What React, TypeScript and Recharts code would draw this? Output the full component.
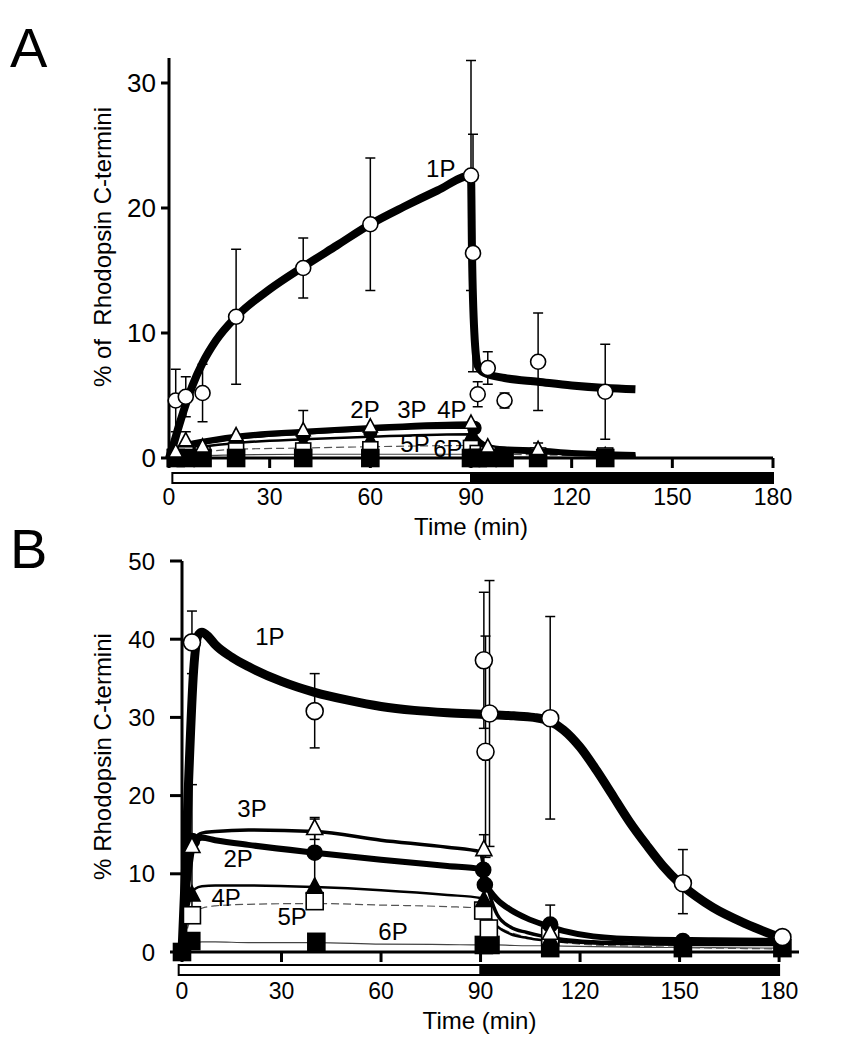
import React from "react";
import {
  ComposedChart, Line, Scatter, XAxis, YAxis, ErrorBar,
  ReferenceArea, ReferenceDot,
} from "recharts";

const FONT = "'Liberation Sans', Arial, Helvetica, sans-serif";

// ---------- Panel A : fitted curves ----------
const fitA_t1 = [0, 1, 3, 5, 7, 10, 14, 20, 30, 40, 50, 60, 70, 80, 90, 90.3, 91, 92, 94, 100, 110, 120, 130, 139];
const fitA_1P = [0, 0.8, 2.6, 4.3, 5.8, 7.6, 9.4, 11.3, 13.5, 15.3, 17.0, 18.7, 20.1, 21.4, 22.6, 16.4, 10.0, 7.4, 6.8, 6.4, 6.1, 5.8, 5.6, 5.5];

const fitA_t = [0, 2, 5, 10, 20, 40, 60, 90, 91, 93, 95, 100, 110, 120, 139];
const fitA_2P = [0, 0.6, 1.0, 1.3, 1.7, 2.1, 2.4, 2.7, 1.8, 1.2, 0.9, 0.7, 0.6, 0.4, 0.25];
const fitA_3P = [0, 0.6, 1.0, 1.2, 1.6, 2.0, 2.3, 2.5, 1.5, 1.0, 0.8, 0.6, 0.5, 0.35, 0.2];
const fitA_4P = [0, 0.4, 0.7, 0.9, 1.2, 1.5, 1.7, 1.9, 1.2, 0.8, 0.6, 0.5, 0.4, 0.3, 0.15];
const fitA_5P = [0, 0.2, 0.4, 0.5, 0.7, 0.8, 0.9, 1.0, 0.7, 0.5, 0.4, 0.3, 0.25, 0.2, 0.1];
const fitA_6P = [0, 0.1, 0.2, 0.2, 0.25, 0.3, 0.3, 0.3, 0.2, 0.15, 0.12, 0.1, 0.08, 0.06, 0.05];

// ---------- Panel A : measured points ----------
const ptA_t1 = [2, 5, 10, 20, 40, 60, 90, 90.6, 92, 95, 100, 110, 130];
const ptA_1P = [4.6, 4.9, 5.2, 11.3, 15.2, 18.7, 22.6, 16.4, 5.1, 7.2, 4.6, 7.7, 5.3];
const errA_1P = [2.5, 1.6, 2.3, 5.4, 2.4, 5.3, 9.2, 9.5, 1.0, 1.3, 0.6, 3.9, 3.8];

const ptA_t3 = [2, 5, 10, 20, 40, 60, 90, 95, 110];
const ptA_3P = [0.5, 1.4, 0.9, 1.8, 2.2, 2.5, 2.8, 0.9, 0.7];
const errA_3P = [0, 0.7, 0, 0, 1.6, 0, 0, 0, 0.5];

const ptA_t2 = [2, 5, 10, 20, 40, 60, 91];
const ptA_2P = [0.3, 0.8, 0.6, 1.4, 1.8, 2.1, 2.4];

const ptA_t4 = [2, 5, 10, 20, 40, 60, 90, 95, 110, 130];
const ptA_4P = [0.2, 0.5, 0.4, 0.9, 1.2, 1.4, 1.7, 0.5, 0.3, 0.2];

const ptA_t5 = [2, 5, 10, 20, 40, 60, 90, 92, 95, 110, 130];
const ptA_5P = [0.1, 0.3, 0.3, 0.6, 0.6, 0.7, 0.8, 0.4, 0.3, 0.2, 0.2];

const ptA_t6 = [2, 5, 10, 20, 40, 60, 90, 92, 95, 100, 110, 130];
const ptA_6P = [0, 0, 0, 0, 0, 0, 0, 0, 0, 0, 0, 0];

// ---------- Panel B : fitted curves ----------
const fitB_t1 = [0, 1, 2, 3.5, 5, 6, 8, 10, 15, 20, 30, 40, 50, 60, 70, 80, 90, 100, 106, 111, 115, 120, 125, 130, 135, 140, 145, 150, 155, 160, 170, 180];
const fitB_1P = [0, 10, 22, 36, 40.6, 40.9, 40.3, 39.3, 37.7, 36.5, 34.6, 33.2, 32.2, 31.4, 30.9, 30.6, 30.4, 30.2, 30.0, 29.5, 28.4, 26.2, 23.2, 19.9, 16.6, 13.7, 11.0, 8.8, 7.1, 5.7, 3.6, 1.9];

const fitB_t = [0, 2, 4, 6, 10, 20, 40, 60, 80, 90, 91, 93, 95, 99, 104, 109, 115, 124, 140, 160, 180];
const fitB_2P = [0, 10, 14.3, 14.6, 14.3, 13.7, 12.7, 11.8, 11.0, 10.6, 9.2, 7.7, 6.7, 5.4, 4.3, 3.5, 2.7, 2.0, 1.6, 1.5, 1.4];
const fitB_3P = [0, 10, 14.6, 15.2, 15.4, 15.6, 15.4, 14.3, 13.4, 12.8, 10.5, 7.0, 4.8, 3.2, 2.5, 2.0, 1.6, 1.3, 1.1, 1.0, 1.0];
const fitB_4P = [0, 6, 8.1, 8.4, 8.5, 8.5, 8.3, 7.9, 7.3, 6.9, 5.8, 4.3, 3.3, 2.3, 1.8, 1.5, 1.3, 1.1, 1.0, 0.9, 0.9];
const fitB_5P = [0, 3.5, 5.2, 5.6, 5.9, 6.1, 6.2, 6.0, 5.8, 5.6, 4.8, 3.9, 3.3, 2.5, 1.9, 1.5, 1.2, 0.9, 0.7, 0.5, 0.4];
const fitB_6P = [0, 0.8, 1.2, 1.3, 1.3, 1.2, 1.2, 1.0, 0.95, 0.9, 0.9, 0.9, 0.9, 0.85, 0.8, 0.8, 0.75, 0.7, 0.6, 0.55, 0.5];

// ---------- Panel B : measured points ----------
const ptB_t1 = [3, 40, 91, 91.5, 92.7, 111, 151, 181];
const ptB_1P = [39.6, 30.8, 37.3, 25.6, 30.5, 29.9, 8.8, 1.9];
const errB_1P_lo = [4.0, 4.7, 8.7, 13.5, 17.0, 12.9, 3.9, 0];
const errB_1P_hi = [4.0, 4.8, 8.7, 14.8, 17.0, 13.0, 4.3, 0];

const ptB_t3 = [3, 40, 91, 111];
const ptB_3P = [13.5, 15.8, 13.1, 2.4];
const errB_3P = [7.9, 1.4, 1.9, 0];

const ptB_t2 = [3, 40, 90.8, 91.3, 111, 151, 181];
const ptB_2P = [14.2, 12.7, 10.5, 8.6, 3.5, 1.4, 1.3];
const errB_2P = [0, 4.3, 0, 0, 2.5, 0, 0];

const ptB_t4 = [3, 40, 91, 111];
const ptB_4P = [7.3, 8.3, 6.6, 1.6];

const ptB_t5 = [3, 40, 90.8, 92.5, 111];
const ptB_5P = [4.7, 6.5, 5.3, 3.0, 2.0];

const ptB_t6 = [0, 2.8, 40.5, 91, 93, 111, 151, 181];
const ptB_6P = [0, 1.4, 1.3, 0.9, 0.9, 0.5, 0.5, 0.5];

// ---------- axes / labels ----------
const xTicks = [0, 30, 60, 90, 120, 150, 180];
const yTicksA = [0, 10, 20, 30];
const yTicksB = [0, 10, 20, 30, 40, 50];

const labelsA = [
  { text: "1P", t: 81, v: 23.2 },
  { text: "2P", t: 58.4, v: 3.85 },
  { text: "3P", t: 72.4, v: 3.85 },
  { text: "4P", t: 84.3, v: 3.85 },
  { text: "5P", t: 73.3, v: 1.2 },
  { text: "6P", t: 83.1, v: 0.8 },
];
const labelsB = [
  { text: "1P", t: 26.5, v: 40.3 },
  { text: "3P", t: 21.1, v: 18.3 },
  { text: "2P", t: 16.9, v: 11.9 },
  { text: "4P", t: 13.3, v: 7.0 },
  { text: "5P", t: 33.2, v: 4.5 },
  { text: "6P", t: 63.6, v: 2.6 },
];

const curve = (ts: number[], ys: number[]) => ts.map((t, i) => ({ t, y: ys[i] }));
const points = (ts: number[], ys: number[], lo?: number[], hi?: number[]) =>
  ts.map((t, i) => {
    const l = lo ? lo[i] : 0;
    const h = hi ? hi[i] : l;
    return { t, y: ys[i], e: l || h ? [l, h] : undefined };
  });

type Kind = "oc" | "fc" | "ot" | "ft" | "os" | "fs";

const marker = (kind: Kind, s: number) => (props: any) => {
  const { cx, cy } = props;
  if (cx == null || cy == null) return <g />;
  const fill = kind[0] === "f" ? "#000" : "#fff";
  if (kind[1] === "c")
    return <circle cx={cx} cy={cy} r={s / 2} fill={fill} stroke="#000" strokeWidth={1.6} />;
  if (kind[1] === "s")
    return <rect x={cx - s / 2} y={cy - s / 2} width={s} height={s} fill={fill} stroke="#000" strokeWidth={1.6} />;
  const h = s * 0.95;
  return (
    <polygon
      points={`${cx},${cy - h * 0.6} ${cx + s / 2},${cy + h * 0.4} ${cx - s / 2},${cy + h * 0.4}`}
      fill={fill} stroke="#000" strokeWidth={1.6}
    />
  );
};

interface CurveDef { data: { t: number; y: number }[]; width: number; color?: string; dash?: string }
interface PointDef { data: any[]; kind: Kind; size: number; err?: boolean }

interface PanelProps {
  height: number;
  plotTop: number;
  plotHeight: number;
  left: number;
  right: number;
  yWidth: number;
  xMax: number;
  yMax: number;
  yTicks: number[];
  yTickSize: number;
  yTickMargin: number;
  yTickFont: number;
  curves: CurveDef[];
  pts: PointDef[];
  labels: { text: string; t: number; v: number }[];
  bar: { x0: number; y1: number; y2: number };
  yTitle: string;
  yTitleShift: number;
  xTitleDx: number;
}

function Panel(p: PanelProps) {
  const xAxisHeight = p.height - p.plotTop - p.plotHeight;
  const yTitle = (lp: any) => {
    const vb = lp.viewBox || {};
    const cy = vb.y + vb.height / 2 + p.yTitleShift;
    return (
      <text
        transform={`translate(111, ${cy}) rotate(-90)`}
        x={0} y={0} textAnchor="middle" fontSize={24} fontFamily={FONT} fill="#000"
        style={{ whiteSpace: "pre" }}
      >
        {p.yTitle}
      </text>
    );
  };
  const xTitle = (lp: any) => {
    const vb = lp.viewBox || {};
    return (
      <text x={vb.x + vb.width / 2 + p.xTitleDx} y={vb.y + 77} textAnchor="middle"
        fontSize={24} fontFamily={FONT} fill="#000">
        Time (min)
      </text>
    );
  };

  return (
    <ComposedChart
      width={852}
      height={p.height}
      margin={{ top: p.plotTop, right: p.right, bottom: 0, left: p.left }}
    >
      <XAxis
        dataKey="t" type="number" domain={[0, p.xMax]} ticks={xTicks} interval={0}
        height={xAxisHeight}
        axisLine={{ stroke: "#000", strokeWidth: 3 }}
        tickLine={{ stroke: "#000", strokeWidth: 3 }}
        tickSize={10} tickMargin={21}
        tick={{ fontSize: 23, fill: "#000", fontFamily: FONT }}
        label={xTitle}
      />
      <YAxis
        dataKey="y" type="number" domain={[0, p.yMax]} ticks={p.yTicks} interval={0}
        width={p.yWidth}
        axisLine={{ stroke: "#000", strokeWidth: 3 }}
        tickLine={{ stroke: "#000", strokeWidth: 3 }}
        tickSize={p.yTickSize} tickMargin={p.yTickMargin}
        tick={{ fontSize: p.yTickFont, fill: "#000", fontFamily: FONT }}
        label={yTitle}
      />
      <ReferenceArea x1={p.bar.x0} x2={90} y1={p.bar.y1} y2={p.bar.y2} ifOverflow="visible"
        fill="#fff" fillOpacity={1} stroke="#000" strokeWidth={2} />
      <ReferenceArea x1={90} x2={180} y1={p.bar.y1} y2={p.bar.y2} ifOverflow="visible"
        fill="#000" fillOpacity={1} stroke="#000" strokeWidth={2} />
      {p.curves.map((c, i) => (
        <Line
          key={`c${i}`} data={c.data} dataKey="y" type="monotone" dot={false}
          stroke={c.color || "#000"} strokeWidth={c.width} strokeDasharray={c.dash}
          isAnimationActive={false}
        />
      ))}
      {p.pts.map((s, i) => (
        <Scatter key={`s${i}`} data={s.data} dataKey="y" shape={marker(s.kind, s.size)} isAnimationActive={false}>
          {s.err && <ErrorBar dataKey="e" direction="y" width={5} stroke="#000" strokeWidth={1.5} />}
        </Scatter>
      ))}
      {p.labels.map((l) => (
        <ReferenceDot
          key={l.text} x={l.t} y={l.v} r={1} fill="none" stroke="none"
          label={{ value: l.text, position: "center", fontSize: 24, fill: "#000", fontFamily: FONT }}
        />
      ))}
    </ComposedChart>
  );
}

export default function App() {
  const curvesA: CurveDef[] = [
    { data: curve(fitA_t, fitA_6P), width: 1.2, color: "#444" },
    { data: curve(fitA_t, fitA_5P), width: 1.2, color: "#555", dash: "8 4" },
    { data: curve(fitA_t, fitA_4P), width: 2.5 },
    { data: curve(fitA_t, fitA_3P), width: 4 },
    { data: curve(fitA_t, fitA_2P), width: 6 },
    { data: curve(fitA_t1, fitA_1P), width: 8 },
  ];
  const ptsA: PointDef[] = [
    { data: points(ptA_t2, ptA_2P), kind: "fc", size: 13 },
    { data: points(ptA_t4, ptA_4P), kind: "ft", size: 14 },
    { data: points(ptA_t5, ptA_5P), kind: "os", size: 15 },
    { data: points(ptA_t6, ptA_6P), kind: "fs", size: 17 },
    { data: points(ptA_t3, ptA_3P, errA_3P), kind: "ot", size: 14, err: true },
    { data: points(ptA_t1, ptA_1P, errA_1P), kind: "oc", size: 15, err: true },
  ];
  const curvesB: CurveDef[] = [
    { data: curve(fitB_t, fitB_6P), width: 1.2, color: "#444" },
    { data: curve(fitB_t, fitB_5P), width: 1.2, color: "#555", dash: "8 4" },
    { data: curve(fitB_t, fitB_4P), width: 2.5 },
    { data: curve(fitB_t, fitB_3P), width: 3.5 },
    { data: curve(fitB_t, fitB_2P), width: 6 },
    { data: curve(fitB_t1, fitB_1P), width: 9 },
  ];
  const ptsB: PointDef[] = [
    { data: points(ptB_t6, ptB_6P), kind: "fs", size: 17 },
    { data: points(ptB_t5, ptB_5P), kind: "os", size: 17 },
    { data: points(ptB_t4, ptB_4P), kind: "ft", size: 16 },
    { data: points(ptB_t2, ptB_2P, errB_2P), kind: "fc", size: 15, err: true },
    { data: points(ptB_t3, ptB_3P, errB_3P), kind: "ot", size: 16, err: true },
    { data: points(ptB_t1, ptB_1P, errB_1P_lo, errB_1P_hi), kind: "oc", size: 17, err: true },
  ];

  return (
    <div style={{ position: "absolute", left: 0, top: 0, width: 852, height: 1050, background: "#fff", fontFamily: FONT }}>
      <div style={{ position: "absolute", left: 10, top: 20, fontSize: 56, lineHeight: 1, color: "#000" }}>A</div>
      <div style={{ position: "absolute", left: 10, top: 521, fontSize: 56, lineHeight: 1, color: "#000" }}>B</div>
      <div style={{ position: "absolute", left: 0, top: 0 }}>
        <Panel
          height={545} plotTop={58} plotHeight={400} left={41} right={79} yWidth={128}
          xMax={180} yMax={32} yTicks={yTicksA} yTickSize={8} yTickMargin={5} yTickFont={26}
          curves={curvesA} pts={ptsA} labels={labelsA}
          bar={{ x0: 1, y1: -1.2, y2: -2.0 }}
          yTitle="% of  Rhodopsin C-termini" yTitleShift={-11} xTitleDx={0}
        />
      </div>
      <div style={{ position: "absolute", left: 0, top: 520 }}>
        <Panel
          height={530} plotTop={41} plotHeight={391} left={28} right={53} yWidth={154}
          xMax={186} yMax={50} yTicks={yTicksB} yTickSize={12} yTickMargin={15} yTickFont={24}
          curves={curvesB} pts={ptsB} labels={labelsB}
          bar={{ x0: -1, y1: -1.66, y2: -2.94 }}
          yTitle="% Rhodopsin C-termini" yTitleShift={0} xTitleDx={-11}
        />
      </div>
    </div>
  );
}
